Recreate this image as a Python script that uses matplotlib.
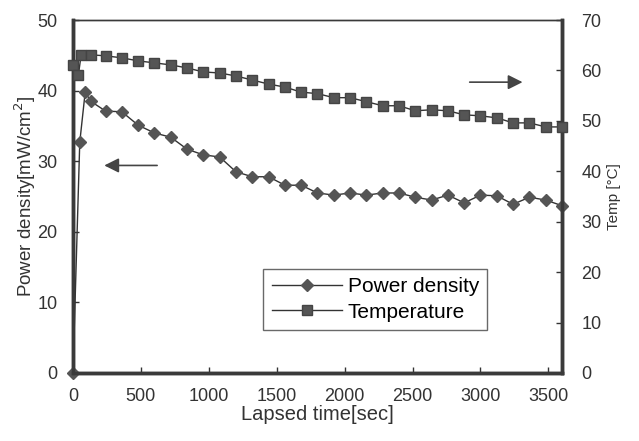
import matplotlib.pyplot as plt
import numpy as np

plt.rcParams['font.family'] = ['Liberation Sans', 'DejaVu Sans']

# Power density [mW/cm2] vs lapsed time [sec]
t_power = [0, 50, 90, 130, 240, 360, 480, 600, 720, 840, 960, 1080, 1200,
           1320, 1440, 1560, 1680, 1800, 1920, 2040, 2160, 2280, 2400, 2520,
           2640, 2760, 2880, 3000, 3120, 3240, 3360, 3480, 3600]
power = [0, 32.7, 39.8, 38.5, 37.1, 37.0, 35.1, 34.0, 33.4, 31.7, 30.9, 30.6,
         28.5, 27.8, 27.8, 26.6, 26.6, 25.5, 25.2, 25.5, 25.2, 25.5, 25.5,
         24.9, 24.5, 25.2, 24.1, 25.2, 25.1, 23.9, 24.9, 24.5, 23.7]

# Temperature [C] vs lapsed time [sec]
t_temp = [0, 40, 60, 130, 240, 360, 480, 600, 720, 840, 960, 1080, 1200,
          1320, 1440, 1560, 1680, 1800, 1920, 2040, 2160, 2280, 2400, 2520,
          2640, 2760, 2880, 3000, 3120, 3240, 3360, 3480, 3600]
temp = [61.1, 59.1, 63.1, 63.1, 62.9, 62.5, 61.9, 61.5, 61.1, 60.5, 59.7,
        59.5, 58.9, 58.1, 57.3, 56.7, 55.7, 55.4, 54.6, 54.6, 53.8, 53.0,
        53.0, 52.0, 52.2, 52.0, 51.2, 51.0, 50.6, 49.6, 49.6, 48.8, 48.8]

fig = plt.figure(figsize=(6.39, 4.41), dpi=100)
ax = fig.add_axes([0.1142, 0.1542, 0.7653, 0.8004])
ax2 = ax.twinx()

mc = '#555555'
lc = '#333333'
l1, = ax.plot(t_power, power, '-', color=lc, lw=1.0, marker='D', ms=6.5,
              mfc=mc, mec=mc, label='Power density', clip_on=False, zorder=3)
l2, = ax2.plot(t_temp, temp, '-', color=lc, lw=1.0, marker='s', ms=7.5,
               mfc=mc, mec='#444444', label='Temperature', clip_on=False, zorder=3)

ax.set_xlim(0, 3600)
ax.set_ylim(0, 50)
ax2.set_ylim(0, 70)
ax.set_xticks(np.arange(0, 3501, 500))
ax.set_yticks(np.arange(0, 51, 10))
ax2.set_yticks(np.arange(0, 71, 10))

for a in (ax, ax2):
    for s in a.spines.values():
        s.set_linewidth(2.5)
        s.set_color('#3a3a3a')
ax.spines['top'].set_linewidth(1.0)
ax2.spines['top'].set_linewidth(1.0)

ax.tick_params(direction='in', length=4, width=1, labelsize=13,
               colors='#333333')
ax.tick_params(axis='x', pad=11)
ax.tick_params(axis='y', pad=11)
ax2.tick_params(direction='in', length=4, width=1, labelsize=13,
                colors='#333333', pad=14)

ax.set_xlabel('Lapsed time[sec]', fontsize=14.5, color='#333333', labelpad=0)
ax.set_ylabel('Power density[mW/cm$^2$]', fontsize=13.5, color='#333333',
              labelpad=0)
ax2.set_ylabel('Temp [\u00b0C]', fontsize=11, color='#333333', labelpad=4)

# direction arrows pointing at the matching axis
ax.annotate('', xy=(210, 29.4), xytext=(640, 29.4),
            arrowprops=dict(arrowstyle='-|>', color='#444444', lw=1.2,
                            mutation_scale=22))
ax.annotate('', xy=(3330, 41.2), xytext=(2900, 41.2),
            arrowprops=dict(arrowstyle='-|>', color='#444444', lw=1.2,
                            mutation_scale=22))

leg = ax.legend(handles=[l1, l2], loc='lower left',
                bbox_to_anchor=(0.389, 0.122), fontsize=15, frameon=True,
                fancybox=False, edgecolor='#444444', handlelength=3.4,
                borderpad=0.4, labelspacing=0.3, handletextpad=0.25,
                borderaxespad=0)
leg.get_frame().set_linewidth(1.0)

fig.savefig('out.png', dpi=100)
